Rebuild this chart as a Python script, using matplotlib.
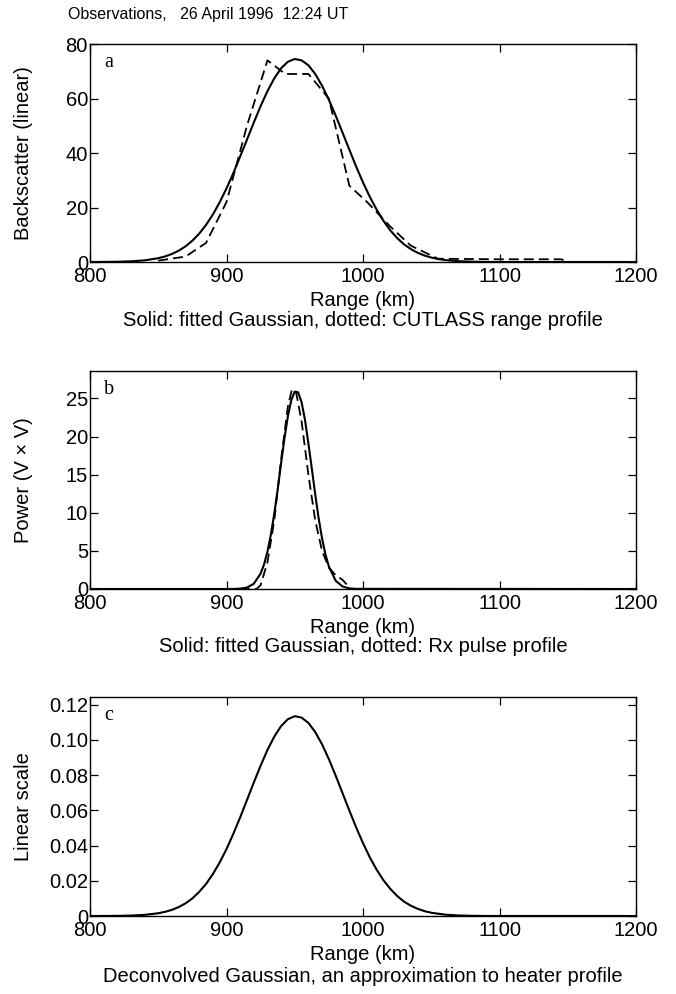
import matplotlib
matplotlib.use("Agg")
import matplotlib.pyplot as plt

plt.rcParams["font.family"] = ["Liberation Sans", "DejaVu Sans"]

# panel a: fitted Gaussian and CUTLASS range profile
a_fit_km = [800, 810, 820, 830, 840, 850, 855, 860, 865, 870, 875, 880, 885, 890, 895,
            900, 905, 910, 915, 920, 925, 930, 935, 940, 945, 950, 955, 960, 965, 970,
            975, 980, 985, 990, 995, 1000, 1005, 1010, 1015, 1020, 1025, 1030, 1035,
            1040, 1045, 1050, 1055, 1060, 1070, 1080, 1090, 1100, 1200]
a_fit = [0.01, 0.03, 0.09, 0.25, 0.61, 1.39, 2.04, 2.95, 4.16, 5.76, 7.82, 10.4, 13.6,
         17.4, 21.9, 27.0, 32.6, 38.7, 44.9, 51.2, 57.2, 62.7, 67.4, 71.1, 73.5, 74.5,
         74.0, 72.2, 69.0, 64.7, 59.5, 53.7, 47.5, 41.2, 35.0, 29.2, 23.9, 19.2, 15.1,
         11.6, 8.79, 6.5, 4.75, 3.4, 2.37, 1.63, 1.10, 0.72, 0.30, 0.11, 0.04, 0.0, 0.0]
a_obs_km = [850, 870, 885, 900, 915, 930, 943, 960, 975, 990, 1003, 1020, 1035, 1055,
            1100, 1145, 1150]
a_obs = [0.5, 2.0, 7.0, 22.0, 50.0, 74.0, 69.0, 69.0, 60.0, 28.0, 22.0, 13.0, 6.0, 1.2,
         1.0, 1.0, 0.2]

# panel b: fitted Gaussian and Rx pulse profile
b_fit_km = [800, 900, 905, 910, 915, 920, 925, 927.5, 930, 932.5, 935, 937.5, 940, 942.5,
            945, 947.5, 950, 952.5, 955, 957.5, 960, 962.5, 965, 967.5, 970, 972.5, 975,
            980, 985, 990, 995, 1200]
b_fit = [0.0, 0.0, 0.01, 0.05, 0.19, 0.69, 2.02, 3.22, 4.91, 7.13, 9.88, 13.05, 16.5,
         19.8, 22.7, 24.8, 25.9, 25.8, 24.5, 22.2, 19.1, 15.8, 12.4, 9.29, 6.64, 4.52,
         2.95, 1.08, 0.33, 0.08, 0.02, 0.0]
b_obs_km = [800, 922, 925, 930, 935, 940, 945, 948, 951, 955, 960, 965, 970, 975, 980,
            985, 988, 991, 1200]
b_obs = [0.0, 0.0, 0.5, 3.5, 9.0, 17.0, 24.0, 26.2, 25.8, 22.0, 15.0, 9.0, 5.0, 2.8, 1.8,
         1.2, 0.6, 0.0, 0.0]

# panel c: deconvolved Gaussian
c_km = [800, 810, 820, 830, 840, 850, 855, 860, 865, 870, 875, 880, 885, 890, 895, 900,
        905, 910, 915, 920, 925, 930, 935, 940, 945, 950, 955, 960, 965, 970, 975, 980,
        985, 990, 995, 1000, 1005, 1010, 1015, 1020, 1025, 1030, 1035, 1040, 1045, 1050,
        1060, 1070, 1080, 1090, 1200]
c_val = [0.00001, 0.00003, 0.00008, 0.00024, 0.00064, 0.00156, 0.00236, 0.0035, 0.00508,
         0.0072, 0.0100, 0.0137, 0.0182, 0.0238, 0.0304, 0.0380, 0.0467, 0.0560, 0.0659,
         0.0758, 0.0854, 0.0943, 0.1019, 0.1079, 0.1118, 0.1135, 0.1127, 0.1097, 0.1045,
         0.0975, 0.0891, 0.0797, 0.0698, 0.0599, 0.0503, 0.0414, 0.0333, 0.0263, 0.0203,
         0.0154, 0.0114, 0.0082, 0.00586, 0.0041, 0.00277, 0.00185, 0.00077, 0.0003,
         0.0001, 0.0, 0.0]

x_ticks = [800, 900, 1000, 1100, 1200]
fs = 14.5

W, H = 676, 994
fig = plt.figure(figsize=(W / 100, H / 100), dpi=100)


def make_axes(top_px, bottom_px):
    ax = fig.add_axes([90 / W, 1 - bottom_px / H, 546 / W, (bottom_px - top_px) / H])
    ax.set_xlim(800, 1200)
    ax.set_xticks(x_ticks)
    ax.tick_params(direction="in", length=6, width=0.9, top=True, right=True,
                   labelsize=fs, pad=1.5)
    ax.tick_params(axis="x", pad=3.5)
    for s in ax.spines.values():
        s.set_linewidth(1.0)
    ax.set_xlabel("Range (km)", fontsize=fs, labelpad=4)
    ax.yaxis.set_label_coords(-0.104, 0.5)
    return ax


def panel_letter(ax, letter):
    ax.text(0.035, 0.915, letter, transform=ax.transAxes, fontsize=fs,
            family=["Liberation Serif", "DejaVu Serif"], ha="center", va="center")


# a
ax1 = make_axes(44, 262)
ax1.plot(a_fit_km, a_fit, color="black", lw=1.5)
l, = ax1.plot(a_obs_km, a_obs, color="black", lw=1.3)
l.set_dashes([5.5, 2.8])
ax1.set_ylim(0, 80)
ax1.set_yticks([0, 20, 40, 60, 80])
ax1.set_ylabel("Backscatter (linear)", fontsize=fs)
panel_letter(ax1, "a")

# b
ax2 = make_axes(371, 589)
ax2.plot(b_fit_km, b_fit, color="black", lw=1.5)
l, = ax2.plot(b_obs_km, b_obs, color="black", lw=1.3)
l.set_dashes([5.5, 2.8])
ax2.set_ylim(0, 28.6)
ax2.set_yticks([0, 5, 10, 15, 20, 25])
ax2.set_ylabel("Power (V \u00d7 V)", fontsize=fs)
panel_letter(ax2, "b")

# c
ax3 = make_axes(697, 916)
ax3.plot(c_km, c_val, color="black", lw=1.5)
ax3.set_ylim(0, 0.1244)
ax3.set_yticks([0, 0.02, 0.04, 0.06, 0.08, 0.10, 0.12])
ax3.set_yticklabels(["0", "0.02", "0.04", "0.06", "0.08", "0.10", "0.12"])
ax3.set_ylabel("Linear scale", fontsize=fs)
panel_letter(ax3, "c")

fig.text(68 / W, 1 - 14 / H, "Observations,   26 April 1996  12:24 UT",
         fontsize=11.5, ha="left", va="center")
fig.text(363 / W, 1 - 320 / H, "Solid: fitted Gaussian, dotted: CUTLASS range profile",
         fontsize=fs, ha="center", va="center")
fig.text(363 / W, 1 - 647 / H, "Solid: fitted Gaussian, dotted: Rx pulse profile",
         fontsize=fs, ha="center", va="center")
fig.text(363 / W, 1 - 977 / H, "Deconvolved Gaussian, an approximation to heater profile",
         fontsize=fs, ha="center", va="center")

fig.savefig("out.png", dpi=100)
